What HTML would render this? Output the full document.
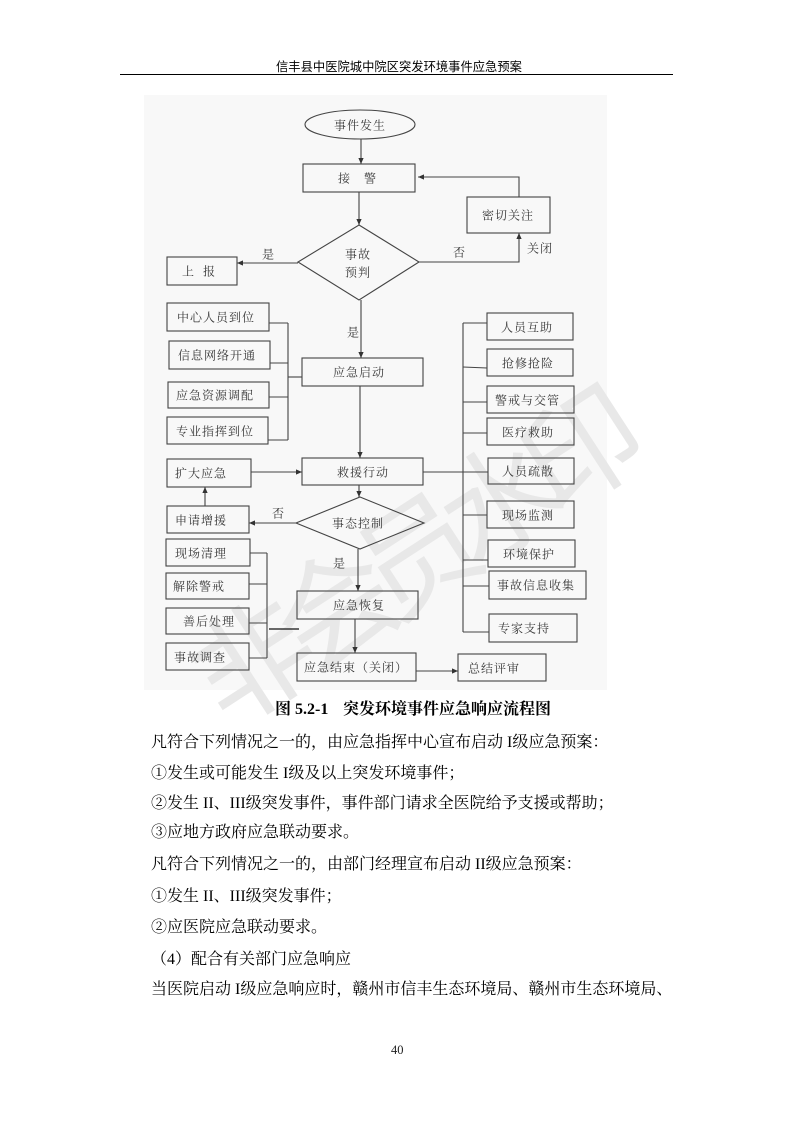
<!DOCTYPE html>
<html><head><meta charset="utf-8"><style>
html,body{margin:0;padding:0;background:#fff;}
svg{display:block;}
.fc{font-family:"Liberation Serif","Noto Serif CJK SC",serif;font-size:12px;fill:#383838;letter-spacing:1px;}
.bd{font-family:"Liberation Serif","Noto Serif CJK SC",serif;font-size:16px;fill:#000;}
</style></head><body>
<svg width="793" height="1122" viewBox="0 0 793 1122" xmlns="http://www.w3.org/2000/svg">
<defs>
<marker id="a" viewBox="0 0 8 8" refX="8" refY="4" markerWidth="5.5" markerHeight="5.5" orient="auto"><path d="M0,0.5 L8,4 L0,7.5z" fill="#333"/></marker>
</defs>
<!-- header -->
<text x="276" y="70.8" style="font-family:'Liberation Sans','Noto Sans CJK SC',sans-serif;font-size:12.3px;fill:#000;">信丰县中医院城中院区突发环境事件应急预案</text>
<line x1="120" y1="74.5" x2="673" y2="74.5" stroke="#000" stroke-width="1"/>

<!-- flowchart background -->
<rect x="144" y="95" width="463" height="595" fill="#f8f8f8"/>

<!-- watermark -->
<text x="405" y="553" text-anchor="middle" dominant-baseline="central" transform="rotate(-33 405 553)" style="font-family:'Noto Sans CJK SC',sans-serif;font-size:118px;letter-spacing:-20px;fill:#e8e8e8;">非会员水印</text>

<g stroke="#444" stroke-width="1.1" fill="none">
<!-- top -->
<ellipse cx="360" cy="124.5" rx="55" ry="14.5"/>
<line x1="361" y1="139" x2="361" y2="164" marker-end="url(#a)"/>
<rect x="303" y="164" width="112" height="28"/>
<line x1="359" y1="192" x2="359" y2="225" marker-end="url(#a)"/>
<polygon points="359,225 419,262 359,300 298,262"/>
<line x1="298" y1="263" x2="237" y2="263" marker-end="url(#a)"/>
<rect x="167" y="257" width="70" height="28"/>
<polyline points="419,262 519,262 519,233" marker-end="url(#a)"/>
<rect x="467" y="197" width="83" height="36"/>
<polyline points="519,197 519,177 418,177" marker-end="url(#a)"/>
<line x1="361" y1="300" x2="361" y2="358" marker-end="url(#a)"/>
<rect x="302" y="358" width="121" height="28"/>
<!-- left group 1 -->
<rect x="167" y="303" width="102" height="28"/>
<rect x="169" y="341" width="101" height="28"/>
<rect x="168" y="382" width="101" height="26"/>
<rect x="167" y="417" width="101" height="27"/>
<line x1="269" y1="323" x2="288" y2="323"/>
<line x1="270" y1="363" x2="288" y2="363"/>
<line x1="269" y1="397" x2="288" y2="397"/>
<line x1="268" y1="440" x2="288" y2="440"/>
<line x1="288" y1="323" x2="288" y2="440"/>
<line x1="288" y1="377" x2="302" y2="377"/>
<line x1="360" y1="386" x2="360" y2="458" marker-end="url(#a)"/>
<rect x="302" y="458" width="121" height="27"/>
<rect x="167" y="459" width="84" height="28"/>
<line x1="251" y1="472" x2="302" y2="472" marker-end="url(#a)"/>
<!-- right group -->
<line x1="423" y1="472" x2="488" y2="472"/>
<line x1="463" y1="323" x2="463" y2="632"/>
<rect x="487" y="313" width="86" height="27"/>
<rect x="487" y="349" width="86" height="27"/>
<rect x="487" y="386" width="87" height="27"/>
<rect x="487" y="418" width="87" height="27"/>
<rect x="488" y="458" width="86" height="26"/>
<rect x="487" y="501" width="87" height="27"/>
<rect x="488" y="540" width="87" height="27"/>
<rect x="489" y="571" width="97" height="28"/>
<rect x="489" y="614" width="88" height="28"/>
<line x1="463" y1="323" x2="487" y2="323"/>
<line x1="463" y1="367" x2="487" y2="368"/>
<line x1="463" y1="402" x2="487" y2="402"/>
<line x1="463" y1="433" x2="487" y2="433"/>
<line x1="463" y1="515" x2="487" y2="515"/>
<line x1="463" y1="560" x2="488" y2="560"/>
<line x1="463" y1="586" x2="489" y2="586"/>
<line x1="463" y1="632" x2="489" y2="632"/>
<!-- lower -->
<line x1="359" y1="485" x2="359" y2="497" marker-end="url(#a)"/>
<polygon points="360,497 424,523 360,549 296,523"/>
<line x1="296" y1="523" x2="249" y2="523" marker-end="url(#a)"/>
<rect x="167" y="506" width="82" height="27"/>
<line x1="205" y1="506" x2="205" y2="487" marker-end="url(#a)"/>
<line x1="358" y1="549" x2="358" y2="591" marker-end="url(#a)"/>
<rect x="297" y="591" width="121" height="28"/>
<line x1="355" y1="619" x2="355" y2="653" marker-end="url(#a)"/>
<rect x="297" y="653" width="119" height="28"/>
<line x1="416" y1="671" x2="458" y2="671" marker-end="url(#a)"/>
<rect x="458" y="654" width="88" height="27"/>
<rect x="166" y="539" width="84" height="27"/>
<rect x="166" y="573" width="83" height="26"/>
<rect x="166" y="608" width="83" height="26"/>
<rect x="166" y="643" width="83" height="27"/>
<line x1="250" y1="553" x2="267" y2="553"/>
<line x1="249" y1="584" x2="267" y2="584"/>
<line x1="249" y1="623" x2="267" y2="623"/>
<line x1="249" y1="658" x2="267" y2="658"/>
<line x1="267" y1="553" x2="267" y2="658"/>
</g>
<line x1="269" y1="629" x2="299" y2="629" stroke="#111" stroke-width="1.3"/>

<!-- flowchart labels -->
<g class="fc">
<text x="334" y="129.5">事件发生</text>
<text x="338" y="182.5">接</text>
<text x="364" y="182.5">警</text>
<text x="345" y="258.5">事故</text>
<text x="345" y="276.5">预判</text>
<text x="262" y="258.5">是</text>
<text x="182" y="275.5">上</text>
<text x="203" y="275.5">报</text>
<text x="453" y="256.5">否</text>
<text x="527" y="252.5">关闭</text>
<text x="482" y="219.5">密切关注</text>
<text x="347" y="336.5">是</text>
<text x="177" y="321.5">中心人员到位</text>
<text x="178" y="359.5">信息网络开通</text>
<text x="176" y="399.5">应急资源调配</text>
<text x="176" y="435.5">专业指挥到位</text>
<text x="333" y="376.5">应急启动</text>
<text x="337" y="476.5">救援行动</text>
<text x="175" y="477.5">扩大应急</text>
<text x="501" y="331.5">人员互助</text>
<text x="502" y="367.5">抢修抢险</text>
<text x="495" y="404.5">警戒与交管</text>
<text x="502" y="436.5">医疗救助</text>
<text x="502" y="475.5">人员疏散</text>
<text x="502" y="519.5">现场监测</text>
<text x="503" y="558.5">环境保护</text>
<text x="497" y="589.5">事故信息收集</text>
<text x="498" y="632.5">专家支持</text>
<text x="332" y="527.5">事态控制</text>
<text x="272" y="517.5">否</text>
<text x="175" y="524.5">申请增援</text>
<text x="333" y="567.5">是</text>
<text x="333" y="609.5">应急恢复</text>
<text x="304" y="671.5">应急结束（关闭）</text>
<text x="468" y="672.5">总结评审</text>
<text x="175" y="557.5">现场清理</text>
<text x="173" y="590.5">解除警戒</text>
<text x="183" y="625.5">善后处理</text>
<text x="174" y="661.5">事故调查</text>
</g>

<!-- caption -->
<text x="275" y="714" style="font-family:'Liberation Serif','Noto Serif CJK SC',serif;font-size:16px;font-weight:bold;fill:#000;">图 5.2-1</text>
<text x="343" y="714" style="font-family:'Liberation Serif','Noto Serif CJK SC',serif;font-size:16px;font-weight:bold;fill:#000;">突发环境事件应急响应流程图</text>

<!-- body -->
<g class="bd">
<text x="151" y="747">凡符合下列情况之一的，由应急指挥中心宣布启动 I级应急预案：</text>
<text x="151" y="778">①发生或可能发生 I级及以上突发环境事件；</text>
<text x="151" y="808">②发生 II、III级突发事件，事件部门请求全医院给予支援或帮助；</text>
<text x="151" y="837">③应地方政府应急联动要求。</text>
<text x="151" y="869">凡符合下列情况之一的，由部门经理宣布启动 II级应急预案：</text>
<text x="151" y="901">①发生 II、III级突发事件；</text>
<text x="151" y="932">②应医院应急联动要求。</text>
<text x="151" y="964">（4）配合有关部门应急响应</text>
<text x="151" y="994">当医院启动 I级应急响应时，赣州市信丰生态环境局、赣州市生态环境局、</text>
</g>

<!-- page number -->
<text x="391" y="1054" style="font-family:'Liberation Serif',serif;font-size:12.5px;fill:#222;">40</text>
</svg>
</body></html>
